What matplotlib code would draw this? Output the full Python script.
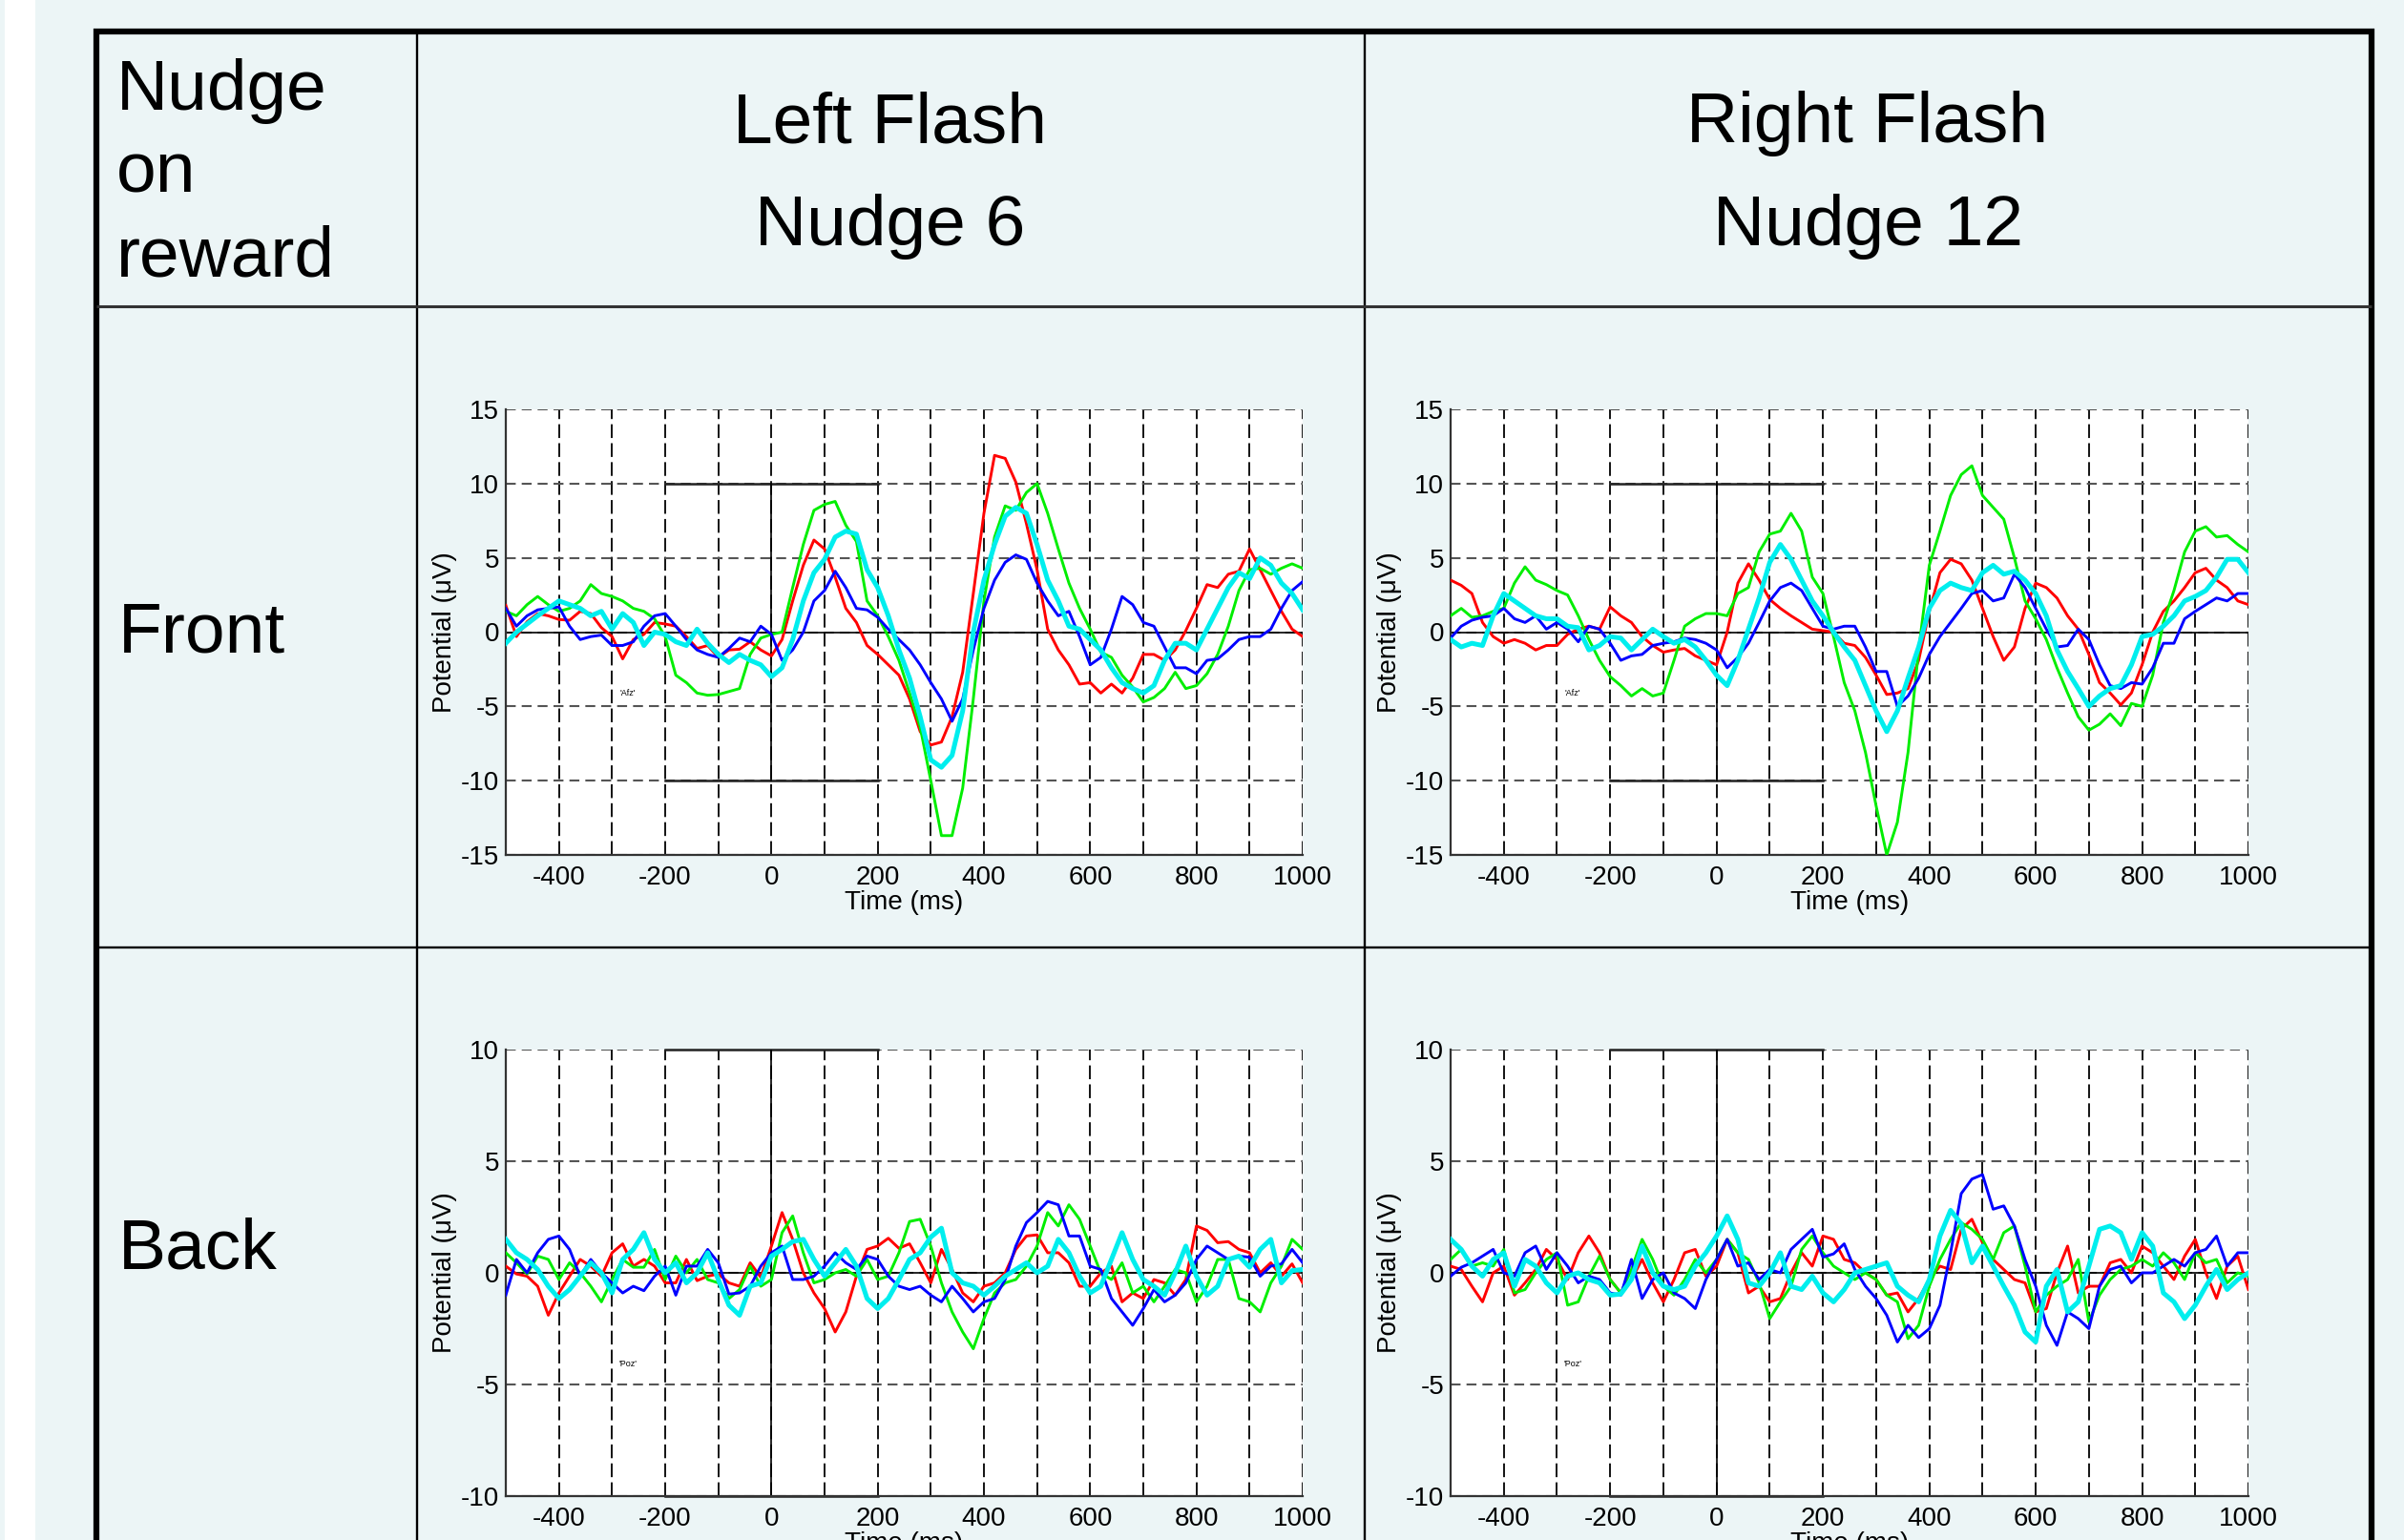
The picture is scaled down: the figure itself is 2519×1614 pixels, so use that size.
import numpy as np
import matplotlib.pyplot as plt
from matplotlib.lines import Line2D
from matplotlib.patches import Rectangle

plt.rcParams['font.family'] = ['Liberation Sans', 'DejaVu Sans']
plt.rcParams['axes.unicode_minus'] = False

# time base of the averaged ERPs (ms)
time_ms = np.arange(-500, 1001, 20)

# ---- Front electrode (Afz), left flash / nudge 6 ----
front_left_red = [1.8, -0.3, 0.7, 1.25, 1.1, 0.85, 0.8, 1.4, 1.25, 0.3,
                  -0.3, -1.8, -0.5, -0.15, 0.65, 0.55, 0.4, -0.3, -1.1, -0.9,
                  -1.7, -1.2, -1.15, -0.65, -1.2, -1.6, -0.5, 2.1, 4.5, 6.2,
                  5.6, 3.7, 1.6, 0.65, -0.9, -1.5, -2.2, -2.9, -4.5, -6.7,
                  -7.6, -7.4, -5.7, -2.7, 2.6, 8.0, 11.9, 11.7, 10.1, 7.3,
                  4.2, 0.2, -1.2, -2.2, -3.5, -3.4, -4.1, -3.5, -4.1, -3.1,
                  -1.5, -1.5, -1.9, -1.2, 0.1, 1.6, 3.2, 3.0, 3.9, 4.1,
                  5.6, 4.2, 2.8, 1.4, 0.2, -0.3]
front_left_green = [1.4, 1.1, 1.85, 2.4, 1.85, 1.4, 1.6, 2.1, 3.2, 2.6,
                    2.4, 2.1, 1.6, 1.4, 0.9, -0.3, -2.9, -3.4, -4.1, -4.25,
                    -4.2, -4.0, -3.8, -1.5, -0.4, -0.15, 0.0, 3.0, 5.9, 8.2,
                    8.6, 8.8, 7.2, 6.1, 2.1, 1.1, -0.3, -1.9, -4.1, -6.4,
                    -10.0, -13.7, -13.7, -10.5, -4.5, 2.1, 6.4, 8.5, 8.2, 9.4,
                    10.0, 8.0, 5.6, 3.3, 1.6, 0.2, -1.35, -1.7, -2.9, -3.7,
                    -4.7, -4.4, -3.8, -2.7, -3.8, -3.6, -2.8, -1.5, 0.4, 2.8,
                    4.2, 4.3, 3.9, 4.3, 4.6, 4.3]
front_left_blue = [1.6, 0.4, 1.1, 1.5, 1.6, 1.7, 0.4, -0.5, -0.3, -0.2,
                   -0.9, -0.9, -0.65, 0.4, 1.1, 1.25, 0.4, -0.5, -1.2, -1.5,
                   -1.7, -1.1, -0.4, -0.65, 0.4, -0.15, -1.9, -1.2, 0.0, 2.1,
                   2.8, 4.1, 3.0, 1.6, 1.5, 1.0, 0.2, -0.5, -1.2, -2.2,
                   -3.4, -4.5, -6.0, -4.5, -1.2, 1.6, 3.5, 4.7, 5.2, 4.9,
                   3.3, 2.1, 1.1, 1.4, -0.3, -2.2, -1.7, 0.2, 2.4, 1.85,
                   0.65, 0.4, -1.0, -2.4, -2.4, -2.8, -1.9, -1.8, -1.2, -0.5,
                   -0.3, -0.3, 0.2, 1.6, 2.8, 3.4]
front_left_cyan = [-0.75, 0.0, 0.55, 1.1, 1.6, 2.1, 1.85, 1.6, 1.1, 1.4,
                   0.2, 1.25, 0.65, -0.9, 0.0, -0.15, -0.65, -0.9, 0.2, -0.75,
                   -1.5, -2.05, -1.5, -1.9, -2.2, -3.0, -2.4, -0.5, 2.1, 4.0,
                   4.9, 6.4, 6.8, 6.6, 4.2, 3.0, 1.1, -1.2, -3.1, -5.7,
                   -8.6, -9.1, -8.3, -5.3, 0.0, 3.5, 5.9, 7.8, 8.4, 8.0,
                   5.9, 3.5, 2.1, 0.4, 0.2, -0.5, -1.2, -2.4, -3.4, -3.8,
                   -4.1, -3.6, -1.9, -0.75, -0.75, -1.2, 0.2, 1.6, 3.0, 4.0,
                   3.6, 5.0, 4.5, 3.3, 2.6, 1.5]

# ---- Front electrode (Afz), right flash / nudge 12 ----
front_right_red = [3.5, 3.15, 2.6, 0.65, -0.3, -0.75, -0.5, -0.75, -1.2, -0.9,
                   -0.9, -0.15, 0.2, 0.4, 0.2, 1.7, 1.1, 0.65, -0.3, -0.9,
                   -1.35, -1.2, -1.1, -1.6, -1.9, -2.2, 0.0, 3.3, 4.6, 3.5,
                   2.2, 1.6, 1.1, 0.65, 0.2, 0.1, 0.0, -0.75, -0.9, -1.7,
                   -2.9, -4.2, -4.1, -3.8, -1.9, 1.4, 4.0, 4.9, 4.6, 3.5,
                   1.6, -0.3, -1.9, -1.0, 1.6, 3.3, 3.0, 2.3, 1.1, 0.2,
                   -1.5, -3.4, -4.1, -4.9, -4.1, -2.2, 0.0, 1.4, 2.1, 3.0,
                   4.0, 4.3, 3.5, 3.0, 2.1, 1.85]
front_right_green = [1.1, 1.6, 1.0, 1.1, 1.4, 1.6, 3.3, 4.4, 3.5, 3.2,
                     2.8, 2.5, 1.1, -0.5, -1.9, -3.0, -3.6, -4.3, -3.8, -4.3,
                     -4.1, -1.9, 0.4, 0.9, 1.25, 1.25, 1.1, 2.6, 3.0, 5.4,
                     6.6, 6.8, 8.0, 6.8, 3.7, 2.6, -0.3, -3.4, -5.3, -8.1,
                     -11.7, -15.0, -12.8, -8.1, -1.2, 4.5, 6.8, 9.2, 10.6, 11.2,
                     9.2, 8.4, 7.6, 5.0, 2.1, 0.9, -0.5, -2.4, -4.1, -5.7,
                     -6.6, -6.2, -5.5, -6.3, -4.8, -5.0, -2.9, 0.65, 2.8, 5.4,
                     6.8, 7.1, 6.4, 6.5, 5.9, 5.4]
front_right_blue = [-0.4, 0.4, 0.8, 1.0, 1.1, 1.6, 0.9, 0.65, 1.1, 0.2,
                    0.65, 0.2, -0.65, 0.4, 0.2, -0.75, -1.9, -1.6, -1.5, -0.9,
                    -0.75, -0.65, -0.4, -0.5, -0.75, -1.2, -2.4, -1.7, -0.75, 0.65,
                    2.1, 3.0, 3.3, 2.8, 1.6, 0.4, 0.2, 0.4, 0.4, -1.0,
                    -2.65, -2.65, -5.0, -4.3, -3.1, -1.5, -0.3, 0.65, 1.6, 2.6,
                    2.8, 2.1, 2.3, 3.9, 3.0, 1.6, 0.2, -1.0, -0.9, 0.2,
                    -0.5, -2.2, -3.6, -3.8, -3.4, -3.5, -2.4, -0.75, -0.75, 0.9,
                    1.4, 1.85, 2.3, 2.1, 2.6, 2.6]
front_right_cyan = [-0.5, -1.0, -0.75, -0.9, 1.1, 2.6, 2.1, 1.6, 1.1, 0.9,
                    0.9, 0.4, 0.3, -1.2, -0.9, -0.3, -0.4, -1.2, -0.5, 0.2,
                    -0.3, -0.75, -0.5, -1.0, -1.9, -2.9, -3.6, -1.9, 0.2, 2.3,
                    4.7, 5.9, 4.9, 3.5, 2.1, 1.1, 0.0, -1.0, -1.9, -3.6,
                    -5.3, -6.7, -5.3, -3.1, -1.0, 1.6, 2.8, 3.3, 3.0, 2.8,
                    4.0, 4.5, 3.9, 4.1, 3.5, 2.6, 1.1, -1.2, -2.65, -3.8,
                    -5.0, -4.3, -3.8, -3.6, -2.2, -0.3, -0.15, 0.4, 1.1, 2.1,
                    2.4, 2.8, 3.7, 4.9, 4.9, 4.0]

# ---- Back electrode (Poz), left flash / nudge 6 ----
back_left_red = [0.3, -0.05, -0.15, -0.6, -1.9, -0.9, -0.15, 0.6, 0.3, -0.15,
                 0.9, 1.3, 0.3, 0.6, 0.3, -0.45, -0.45, 0.6, -0.35, -0.15,
                 -0.05, -0.45, -0.6, 0.45, -0.2, 1.2, 2.7, 1.5, 0.0, -0.9,
                 -1.6, -2.65, -1.75, -0.15, 1.05, 1.2, 1.55, 1.1, 1.3, 0.45,
                 -0.45, 1.05, 0.15, -0.9, -1.3, -0.6, -0.45, 0.0, 1.05, 1.65,
                 1.7, 0.9, 0.9, 0.45, -0.6, -0.6, 0.0, 0.3, -1.3, -0.9,
                 -1.15, -0.3, -0.45, -1.0, -0.3, 2.1, 1.9, 1.35, 1.4, 1.05,
                 0.9, 0.0, 0.45, -0.15, 0.4, -0.45]
back_left_green = [0.9, 0.45, -0.05, 0.75, 0.6, -0.3, 0.45, 0.0, -0.6, -1.3,
                   -0.3, 0.6, 0.25, 0.25, 1.05, -0.3, 0.75, 0.0, 0.6, -0.3,
                   -0.45, -1.15, -0.75, 0.3, -0.6, -0.3, 1.8, 2.55, 0.9, -0.45,
                   -0.3, 0.0, 0.15, -0.15, 0.6, -0.3, -0.15, 0.9, 2.3, 2.4,
                   1.2, -0.45, -1.75, -2.65, -3.4, -2.05, -0.9, -0.45, -0.3, 0.3,
                   1.2, 2.7, 2.1, 3.05, 2.4, 1.2, 0.0, -0.3, 0.45, -0.9,
                   -0.6, -1.3, -0.6, 0.15, 0.0, -1.3, -0.6, 0.6, 0.6, -1.15,
                   -1.3, -1.75, -0.45, 0.3, 1.5, 1.05]
back_left_blue = [-1.0, 0.6, 0.0, 0.9, 1.5, 1.65, 1.05, -0.15, 0.6, 0.0,
                  -0.45, -0.9, -0.6, -0.8, -0.15, 0.3, -1.0, 0.3, 0.3, 1.05,
                  0.45, -0.95, -0.9, -0.6, 0.3, 0.9, 1.2, -0.3, -0.3, -0.15,
                  0.3, 0.9, 0.45, 0.15, 0.75, 0.6, -0.15, -0.6, -0.75, -0.6,
                  -1.0, -1.3, -0.6, -1.15, -1.75, -1.3, -1.15, -0.3, 1.2, 2.25,
                  2.7, 3.2, 3.05, 1.65, 1.65, 0.3, 0.15, -1.15, -1.75, -2.35,
                  -1.6, -0.75, -1.3, -1.0, -0.45, 0.6, 1.2, 0.9, 0.6, 0.75,
                  0.7, -0.15, 0.3, 0.4, 1.05, 0.45]
back_left_cyan = [1.5, 0.9, 0.6, 0.15, -0.6, -1.15, -0.75, -0.15, 0.45, 0.0,
                  -0.9, 0.6, 1.05, 1.8, 0.6, 0.0, 0.45, -0.45, 0.0, 0.9,
                  -0.3, -1.45, -1.9, -0.6, -0.45, 0.75, 1.05, 1.4, 1.5, 0.6,
                  -0.15, 0.45, 1.05, 0.3, -1.15, -1.6, -1.15, -0.3, 0.6, 0.9,
                  1.6, 2.0, 0.0, -0.45, -0.6, -1.0, -0.6, -0.15, 0.15, 0.45,
                  0.0, 0.3, 1.5, 0.9, -0.15, -0.9, -0.6, 0.6, 1.8, 0.6,
                  -0.3, -0.6, -1.0, 0.0, 1.2, -0.15, -1.0, -0.6, 0.6, 0.75,
                  0.25, 1.05, 1.5, -0.45, 0.1, 0.15]

# ---- Back electrode (Poz), right flash / nudge 12 ----
back_right_red = [0.3, 0.15, -0.6, -1.3, 0.0, 0.3, -1.0, -0.45, 0.15, 1.05,
                  0.6, -0.3, 0.9, 1.65, 0.9, -0.3, -0.9, -0.3, 0.6, -0.45,
                  -1.3, -0.3, 0.9, 1.05, -0.15, 0.3, 1.5, 0.9, -0.9, -0.6,
                  -1.3, -1.15, 0.0, 0.9, 0.3, 1.65, 1.5, 0.6, 0.45, 0.0,
                  -0.3, -1.0, -0.9, -1.75, -1.15, -0.3, 0.3, 0.15, 1.95, 2.4,
                  1.35, 0.6, 0.15, -0.3, -0.45, -1.75, -1.6, 0.0, 1.2, -0.9,
                  -0.6, -0.6, 0.45, 0.6, 0.0, 1.2, 0.9, 0.3, -0.3, 0.75,
                  1.5, 0.0, -1.15, 0.3, 0.75, -0.75]
back_right_green = [0.6, 1.05, 0.3, 0.45, 0.3, 1.05, -0.9, -0.75, 0.0, 0.6,
                    0.9, -1.45, -1.3, -0.15, 0.75, -0.3, -0.9, 0.15, 1.5, 0.6,
                    -0.6, -1.0, -0.3, 0.6, 0.0, 0.6, 1.5, 0.9, 0.6, -0.45,
                    -2.05, -1.3, -0.6, 1.05, 1.65, 0.9, 0.3, 0.0, -0.3, 0.0,
                    -0.3, -1.0, -1.3, -2.95, -2.35, -0.6, 0.6, 1.5, 2.25, 1.95,
                    1.5, 0.6, 1.8, 2.1, 0.3, -1.75, -1.0, -0.6, -0.3, 0.6,
                    -2.2, -1.0, -0.3, 0.15, 0.3, 0.6, 0.3, 0.9, 0.45, -0.3,
                    0.9, 0.45, 0.6, -0.45, 0.0, -0.15]
back_right_blue = [-0.15, 0.25, 0.45, 0.75, 1.05, 0.0, -0.15, 0.9, 1.2, 0.15,
                   0.9, 0.3, -0.45, -0.15, -0.3, -0.9, -1.0, 0.6, -1.15, -0.3,
                   0.0, -0.9, -1.15, -1.6, -0.3, 0.6, 1.5, 0.3, 0.45, -0.3,
                   0.15, 0.0, 1.05, 1.5, 1.95, 0.7, 0.85, 1.3, 0.15, -0.6,
                   -1.15, -1.9, -3.1, -2.35, -2.9, -2.5, -1.45, 0.9, 3.55, 4.2,
                   4.4, 2.85, 3.0, 2.1, 0.6, -0.6, -2.35, -3.25, -1.75, -2.05,
                   -2.5, -0.6, 0.15, 0.3, -0.45, 0.0, 0.0, 0.3, 0.6, 0.3,
                   0.9, 1.05, 1.65, 0.3, 0.9, 0.9]
back_right_cyan = [1.5, 1.05, 0.3, -0.15, 0.6, 0.9, -0.6, 0.6, 0.3, -0.45,
                   -0.9, -0.15, 0.0, -0.3, -0.45, -1.0, -0.95, -0.3, 1.2, 0.0,
                   -0.6, -0.75, -0.6, 0.3, 0.9, 1.65, 2.55, 1.5, -0.45, -0.6,
                   0.0, 0.9, -0.6, -0.75, -0.15, -0.9, -1.3, -0.75, 0.0, 0.15,
                   0.3, 0.45, -0.6, -1.0, -1.3, -0.3, 1.65, 2.8, 2.2, 0.45,
                   1.2, 0.3, -0.6, -1.45, -2.65, -3.1, -0.6, 0.15, -1.75, -1.3,
                   0.3, 1.95, 2.1, 1.8, 0.6, 1.8, 1.2, -0.9, -1.3, -2.05,
                   -1.45, -0.6, 0.15, -0.75, -0.3, 0.0]

col_titles = [('Left Flash', 'Nudge 6'), ('Right Flash', 'Nudge 12')]
row_titles = ['Front', 'Back']
corner_title = ['Nudge', 'on', 'reward']
site_labels = ["'Afz'", "'Poz'"]
front_ylim = (-15, 15)
back_ylim = (-10, 10)
stim_window = (-200, 200)   # bracket drawn around stimulus onset
stim_height = 10

trace_colors = ['#ff0000', '#00ee00', '#0000ff', '#00eeee']
trace_widths = [2.1, 2.1, 2.1, 3.6]

W, H = 2519, 1614
BG = '#ecf5f6'

fig = plt.figure(figsize=(W / 100, H / 100), dpi=100, facecolor=BG)


def fx(px):
    return px / W


def fy(py):
    return 1 - py / H


def fig_line(xs, ys, lw, color='black'):
    fig.add_artist(Line2D([fx(x) for x in xs], [fy(y) for y in ys],
                          transform=fig.transFigure, lw=lw, color=color,
                          solid_capstyle='butt'))


# white strip at the left edge of the slide
fig.add_artist(Rectangle((fx(5), 0), fx(32), 1, transform=fig.transFigure,
                         facecolor='white', edgecolor='none', zorder=0))

# table grid
fig_line([98, 2488], [33, 33], 4.5)
fig_line([101, 101], [30, 1620], 4.5)
fig_line([2485, 2485], [30, 1620], 4.5)
fig_line([437, 437], [33, 1620], 1.7)
fig_line([1430, 1430], [33, 1620], 1.7)
fig_line([101, 2485], [321, 321], 2.2, '#333333')
fig_line([101, 2485], [993, 993], 1.7)

# header texts
big = 54
for i, word in enumerate(corner_title):
    fig.text(fx(122), fy(115 + 87 * i), word, fontsize=big, ha='left', va='baseline')
for cx, (t1, t2) in zip([933, 1957], col_titles):
    fig.text(fx(cx), fy(149), t1, fontsize=big, ha='center', va='baseline')
    fig.text(fx(cx), fy(257), t2, fontsize=big, ha='center', va='baseline')
for by, name in zip([683, 1330], row_titles):
    fig.text(fx(124), fy(by), name, fontsize=big, ha='left', va='baseline')


def draw_panel(ax, traces, ylim, site):
    ax.set_facecolor('white')
    ax.set_xlim(-500, 1000)
    ax.set_ylim(*ylim)
    xt = np.arange(-400, 1001, 100)
    ax.set_xticks(xt)
    ax.set_xticklabels([str(t) if t % 200 == 0 else '' for t in xt])
    ax.set_yticks(np.arange(ylim[0], ylim[1] + 1, 5))
    ax.xaxis.grid(True, color='black', lw=1.3, linestyle=(0, (8, 3)))
    ax.yaxis.grid(True, color='#555555', lw=1.5, linestyle=(0, (5, 3)))
    ax.set_axisbelow(True)
    for s in ['top', 'right']:
        ax.spines[s].set_visible(False)
    for s in ['left', 'bottom']:
        ax.spines[s].set_linewidth(1.6)
        ax.spines[s].set_color('#333333')
    ax.tick_params(length=0, labelsize=20)
    ax.tick_params(axis='x', pad=8)
    ax.tick_params(axis='y', pad=5)

    ax.axhline(0, color='black', lw=1.2, zorder=2)
    ax.plot(stim_window, [stim_height, stim_height], color='#222222', lw=1.8, clip_on=False, zorder=2)
    ax.plot(stim_window, [-stim_height, -stim_height], color='#222222', lw=1.8, clip_on=False, zorder=2)
    ax.plot([0, 0], [-stim_height, stim_height], color='black', lw=1.2, zorder=2)

    for vals, c, lw in zip(traces, trace_colors, trace_widths):
        ax.plot(time_ms, vals, color=c, lw=lw, zorder=3)

    ax.text(-270, -4.1, site, fontsize=6.5, ha='center', va='center')
    ax.set_xlabel('Time (ms)', fontsize=20, labelpad=0)
    ax.set_ylabel('Potential (\u03bcV)', fontsize=20, labelpad=3)


panels = [
    ((530, 429, 1365, 896), [front_left_red, front_left_green, front_left_blue, front_left_cyan], front_ylim, site_labels[0]),
    ((1520, 429, 2356, 896), [front_right_red, front_right_green, front_right_blue, front_right_cyan], front_ylim, site_labels[0]),
    ((530, 1100, 1365, 1568), [back_left_red, back_left_green, back_left_blue, back_left_cyan], back_ylim, site_labels[1]),
    ((1520, 1100, 2356, 1568), [back_right_red, back_right_green, back_right_blue, back_right_cyan], back_ylim, site_labels[1]),
]

for (l, t, r, b), traces, ylim, site in panels:
    ax = fig.add_axes([fx(l), fy(b), (r - l) / W, (b - t) / H])
    draw_panel(ax, traces, ylim, site)

fig.savefig('out.png', dpi=100, facecolor=BG)
